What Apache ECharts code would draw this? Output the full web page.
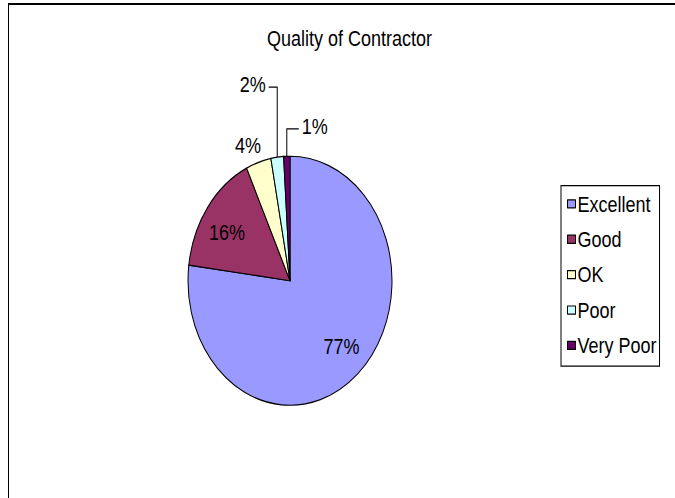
<!DOCTYPE html>
<html>
<head>
<meta charset="utf-8">
<title>Quality of Contractor</title>
<script src="https://cdn.jsdelivr.net/npm/echarts@6/dist/echarts.min.js"></script>
<style>
  html, body { margin: 0; padding: 0; background: #fff; overflow: hidden; }
  #frame {
    position: absolute; left: 8px; top: 3px; width: 700px; height: 520px;
    border-top: 2px solid #000; border-left: 1px solid #000;
  }
  /* the reference image is stretched vertically, so the chart is drawn squashed and scaled back up */
  #chart {
    position: absolute; left: 0; top: 0; width: 675px; height: 408px;
    transform: scaleY(1.2206); transform-origin: 0 0;
  }
</style>
</head>
<body>
<div id="frame"></div>
<div id="chart"></div>
<script>
const categories = ['Excellent', 'Good', 'OK', 'Poor', 'Very Poor']
const shares = [77, 16, 4, 2, 1]
const colors = ['#9999FF', '#993366', '#FFFFCC', '#CCFFFF', '#660066']

const CENTER = [290, 230]
const RADIUS = 102
const FONT = '"Liberation Sans", Arial, sans-serif'

// label placement per slice: inside labels pushed outwards, outside ones get Excel-like leaders
const labelPlacement = [
  { inside: true, kx: 1.44, ky: 1.32 },
  { inside: true, kx: 1.44, ky: 1.24 },
  { dx: -10.5, dy: -14, align: 'center', line: false },
  { dx: -11.5, dy: -59.5, align: 'right', line: true },
  { dx: 15, dy: -24.5, align: 'left', line: true }
]

const chart = echarts.init(document.getElementById('chart'), null, { renderer: 'svg' })

chart.setOption({
  backgroundColor: 'transparent',
  animation: false,
  color: colors,
  title: {
    text: 'Quality of Contractor',
    left: 267,
    top: 22,
    padding: 0,
    textStyle: { fontFamily: FONT, fontSize: 18, fontWeight: 'normal', color: '#000' }
  },
  legend: {
    orient: 'vertical',
    left: 561,
    top: 152,
    padding: [6, 3, 8, 6],
    itemGap: 11,
    itemWidth: 8,
    itemHeight: 6.6,
    borderColor: '#000',
    borderWidth: 1,
    selectedMode: false,
    data: categories.map(name => ({ name, icon: 'rect' })),
    itemStyle: { borderColor: '#000', borderWidth: 1 },
    textStyle: { fontFamily: FONT, fontSize: 18, color: '#000', padding: [0, 0, 0, -3] }
  },
  series: [{
    type: 'pie',
    center: CENTER,
    radius: RADIUS,
    startAngle: 90,
    clockwise: true,
    avoidLabelOverlap: false,
    data: categories.map((name, i) => ({
      name,
      value: shares[i],
      label: { position: labelPlacement[i].inside ? 'inside' : 'outside' }
    })),
    itemStyle: { borderColor: '#000', borderWidth: 1 },
    label: {
      formatter: '{c}%',
      fontFamily: FONT,
      fontSize: 18,
      color: '#000'
    },
    labelLine: {
      show: true,
      length: 20,
      length2: 5,
      lineStyle: { color: '#000', width: 1 }
    },
    emphasis: { disabled: true },
    labelLayout (params) {
      const spec = labelPlacement[params.dataIndex]
      const r = params.labelRect
      if (spec.inside) {
        const lx = r.x + r.width / 2
        const ly = r.y + r.height / 2
        return {
          x: CENTER[0] + (lx - CENTER[0]) * spec.kx,
          y: CENTER[1] + (ly - CENTER[1]) * spec.ky,
          align: 'center',
          verticalAlign: 'middle'
        }
      }
      const p0 = params.labelLinePoints[0]
      const x = p0[0] + spec.dx
      const y = p0[1] + spec.dy
      const lineY = y + 2
      const endX = spec.align === 'right' ? x + 3 : x - 3
      return {
        x,
        y,
        align: spec.align,
        verticalAlign: 'middle',
        labelLinePoints: spec.line
          ? [p0, [p0[0], lineY], [endX, lineY]]
          : [p0, p0, p0]
      }
    }
  }]
})
</script>
</body>
</html>
